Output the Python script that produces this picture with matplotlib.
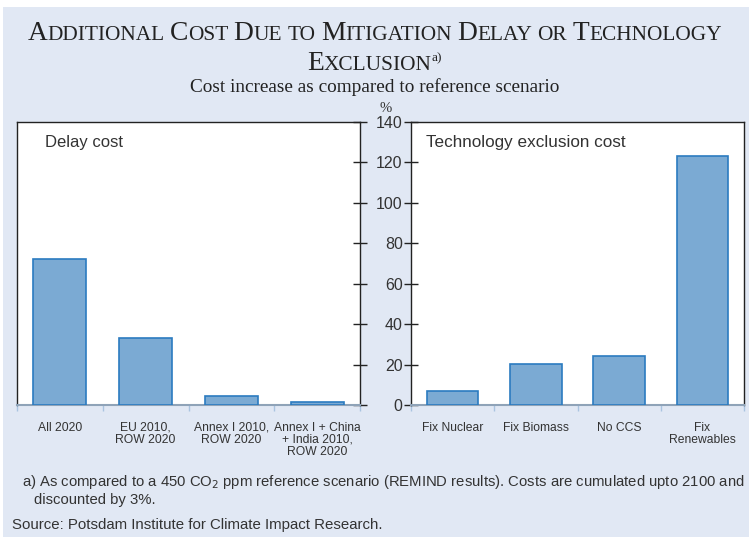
import numpy as np
import matplotlib.pyplot as plt
from matplotlib.patches import Rectangle

# data
delay_labels = ['All 2020', 'EU 2010,\nROW 2020', 'Annex I 2010,\nROW 2020',
                'Annex I + China\n+ India 2010,\nROW 2020']
delay_cost = [72, 33, 4.5, 1.7]
tech_labels = ['Fix Nuclear', 'Fix Biomass', 'No CCS', 'Fix\nRenewables']
tech_cost = [6.8, 20.1, 24.2, 123.4]
yticks = [0, 20, 40, 60, 80, 100, 120, 140]

bg = '#e1e8f4'
bar_face = '#7baad3'
bar_edge = '#2b7bc0'
txt = '#333333'
sans = ['Liberation Sans', 'DejaVu Sans']
serif = ['Liberation Serif', 'DejaVu Serif']

W, H = 749, 537
fig = plt.figure(figsize=(W/100, H/100), dpi=100)
fig.patch.set_facecolor('white')
fig.patches.append(Rectangle((3/W, 0), 1, 1 - 7/H, transform=fig.transFigure,
                             facecolor=bg, edgecolor='none', zorder=-10))


def fx(px):
    return px / W


def fy(py):
    return 1 - py / H


ax1 = fig.add_axes([fx(17), fy(405), fx(360) - fx(17), fy(122) - fy(405)])
ax2 = fig.add_axes([fx(411), fy(405), fx(744) - fx(411), fy(122) - fy(405)])


def panel(ax, labels, vals, title, tx, tsize):
    x = np.arange(len(vals))
    ax.bar(x, vals, width=0.62, color=bar_face, edgecolor=bar_edge, linewidth=1.2, zorder=3)
    ax.set_xlim(-0.5, len(vals) - 0.5)
    ax.set_ylim(0, 140)
    ax.set_facecolor('white')
    ax.set_xticks(x)
    ax.set_xticklabels(labels, fontsize=8.7, family=sans, color=txt, linespacing=1.0)
    ax.set_xticks(np.arange(len(vals) + 1) - 0.5, minor=True)
    ax.tick_params(axis='x', which='major', length=0, pad=12)
    ax.tick_params(axis='x', which='minor', length=4, color='#a9c4e0', width=1)
    for s in ['top', 'left', 'right']:
        ax.spines[s].set_color('#222222')
        ax.spines[s].set_linewidth(1.0)
    ax.spines['bottom'].set_color('#8fa3b8')
    ax.spines['bottom'].set_linewidth(1.5)
    ax.text(tx, 0.926, title, transform=ax.transAxes,
            fontsize=tsize, family=sans, color=txt, va='center', ha='left')


panel(ax1, delay_labels, delay_cost, 'Delay cost', 0.082, 12)
panel(ax2, tech_labels, tech_cost, 'Technology exclusion cost', 0.045, 12.3)

ax1.yaxis.tick_right()
ax1.set_yticks(yticks)
ax1.set_yticklabels([])
ax1.tick_params(axis='y', direction='inout', length=10, width=1, color='#222222')

ax2.set_yticks(yticks)
ax2.set_yticklabels([str(v) for v in yticks], fontsize=11.5, family=sans, color=txt)
ax2.tick_params(axis='y', direction='inout', length=10, width=1, color='#222222', pad=1)

fig.text(fx(386), fy(108), '%', fontsize=10.5, family=serif, color=txt, ha='center', va='center')

# title in small caps, built from pieces
renderer = fig.canvas.get_renderer()


def smallcaps_line(parts, ybase, big=19.8, small=15.4):
    objs = []
    widths = []
    for s, kind in parts:
        if kind == 'sp':
            t = fig.text(0, 0, 'x x', fontsize=small, family=serif)
            t2 = fig.text(0, 0, 'xx', fontsize=small, family=serif)
            w = t.get_window_extent(renderer).width - t2.get_window_extent(renderer).width
            t.remove()
            t2.remove()
            objs.append(None)
            widths.append(w)
            continue
        size = {'big': big, 'small': small, 'sup': 9.5}[kind]
        t = fig.text(0, 0, s, fontsize=size, family=serif, color='#222222',
                     ha='left', va='baseline')
        objs.append((t, kind))
        widths.append(t.get_window_extent(renderer).width)
    total = sum(widths)
    x = W / 2 - total / 2
    for o, w in zip(objs, widths):
        if o is not None:
            t, kind = o
            yy = ybase + (-9 if kind == 'sup' else 0)
            t.set_position((fx(x), fy(yy)))
        x += w


line1 = []
for word in ['ADDITIONAL', 'COST', 'DUE', 'TO', 'MITIGATION', 'DELAY', 'OR', 'TECHNOLOGY']:
    if line1:
        line1.append(('', 'sp'))
    if word in ('TO', 'OR'):
        line1.append((word, 'small'))
    else:
        line1.append((word[0], 'big'))
        line1.append((word[1:], 'small'))
smallcaps_line(line1, 40)
smallcaps_line([('E', 'big'), ('XCLUSION', 'small'), ('a)', 'sup')], 70)

fig.text(0.5, fy(87), 'Cost increase as compared to reference scenario', fontsize=13.9,
         family=serif, color='#222222', ha='center', va='center')

fig.text(fx(22), fy(482), 'a) As compared to a 450 CO$_2$ ppm reference scenario (REMIND results). '
         'Costs are cumulated upto 2100 and', fontsize=10.75, family=sans, color=txt, va='center')
fig.text(fx(34), fy(500), 'discounted by 3%.', fontsize=10.75, family=sans, color=txt, va='center')
fig.text(fx(12), fy(525), 'Source: Potsdam Institute for Climate Impact Research.', fontsize=10.85,
         family=sans, color=txt, va='center')

fig.savefig('out.png', dpi=100, facecolor=fig.get_facecolor())
